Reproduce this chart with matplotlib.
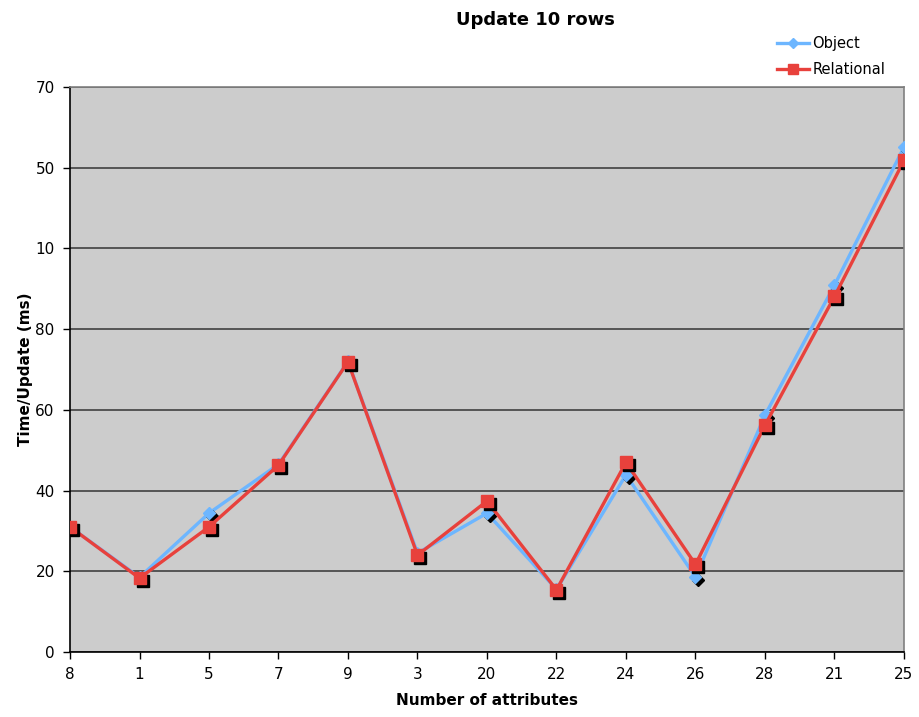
import matplotlib
matplotlib.use("Agg")
import matplotlib.pyplot as plt
import matplotlib.transforms as mtransforms
from matplotlib.lines import Line2D

categories = ["8", "1", "5", "7", "9", "3", "20", "22", "24", "26", "28", "21", "25"]
object_vals = [31.0, 18.5, 34.4, 46.5, 72.0, 24.5, 34.4, 15.5, 43.9, 18.6, 58.7, 90.9, 125.1]
relational_vals = [31.0, 18.3, 31.0, 46.3, 71.9, 24.0, 37.4, 15.4, 47.0, 21.7, 56.2, 88.1, 121.8]
ytick_vals = [0, 20, 40, 60, 80, 100, 120, 140]
ytick_labels = ["0", "20", "40", "60", "80", "10", "50", "70"]

plt.rcParams['font.family'] = ['DejaVu Sans']
fig = plt.figure(figsize=(9.2, 7.17), dpi=100)
ax = fig.add_axes([70/920, 1-652/717, (904-70)/920, (652-87)/717])
ax.set_facecolor('#CCCCCC')

x = list(range(len(categories)))
shadow = mtransforms.offset_copy(ax.transData, fig=fig, x=3, y=-3, units='dots')

obj_c = '#6DB6FF'
rel_c = '#E8413C'

ax.plot(x, object_vals, color=obj_c, lw=2.4, zorder=3)
ax.plot(x, object_vals, ls='none', marker='D', ms=6.5, color='black', transform=shadow, zorder=3.5)
ax.plot(x, object_vals, ls='none', marker='D', ms=6.5, color=obj_c, zorder=4)

ax.plot(x, relational_vals, color=rel_c, lw=2.4, zorder=5)
ax.plot(x, relational_vals, ls='none', marker='s', ms=9, color='black', transform=shadow, zorder=5.5)
ax.plot(x, relational_vals, ls='none', marker='s', ms=9, color=rel_c, zorder=6)

ax.set_xlim(0, 12)
ax.set_ylim(0, 140)
ax.set_xticks(x)
ax.set_xticklabels(categories, fontsize=11)
ax.set_yticks(ytick_vals)
ax.set_yticklabels(ytick_labels, fontsize=11)
ax.yaxis.grid(True, color='#404040', lw=1.2, zorder=1)
ax.set_axisbelow(True)
ax.tick_params(direction='out', length=5, width=1, colors='black', pad=6)
for s in ['left', 'bottom']:
    ax.spines[s].set_color('black')
    ax.spines[s].set_linewidth(1.2)
for s in ['top', 'right']:
    ax.spines[s].set_color('#808080')
    ax.spines[s].set_linewidth(1.2)

ax.set_xlabel("Number of attributes", fontsize=11, fontweight='bold', labelpad=8)
ax.set_ylabel("Time/Update (ms)", fontsize=11, fontweight='bold', labelpad=2)
fig.text(535/920, 1-20/717, "Update 10 rows", ha='center', va='center', fontsize=13, fontweight='bold')

handles = [Line2D([], [], color=obj_c, lw=2.4, marker='D', ms=5),
           Line2D([], [], color=rel_c, lw=2.4, marker='s', ms=7)]
fig.legend(handles, ["Object", "Relational"], loc='upper left', bbox_to_anchor=(770/920, 1-29/717),
           frameon=False, fontsize=10.5, handlelength=2.2, handletextpad=0.2, labelspacing=0.75,
           borderpad=0)

fig.savefig("out.png", dpi=100)
